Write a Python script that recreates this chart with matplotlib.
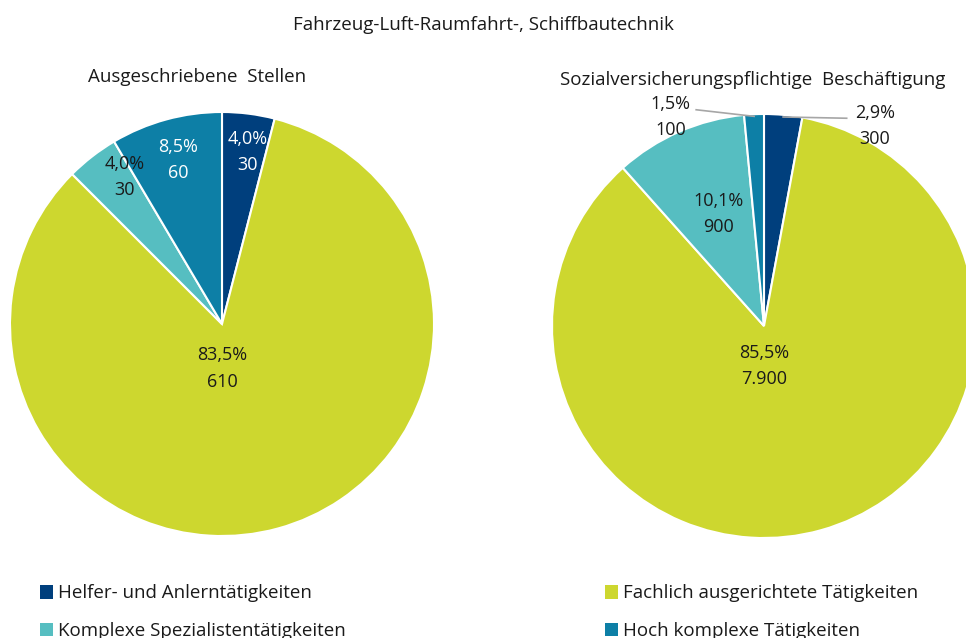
import numpy as np
import matplotlib
matplotlib.use("Agg")
import matplotlib.pyplot as plt

plt.rcParams['font.family'] = ['Open Sans', 'DejaVu Sans']

categories = ['Helfer- und Anlerntätigkeiten', 'Fachlich ausgerichtete Tätigkeiten',
              'Komplexe Spezialistentätigkeiten', 'Hoch komplexe Tätigkeiten']
colors = ['#003F7D', '#CDD72F', '#56BEC1', '#0D7FA6']

stellen_pct = [4.0, 83.5, 4.0, 8.5]
stellen_abs = ['30', '610', '30', '60']
besch_pct = [2.9, 85.5, 10.1, 1.5]
besch_abs = ['300', '7.900', '900', '100']

title = 'Fahrzeug-Luft-Raumfahrt-, Schiffbautechnik'
sub_left = 'Ausgeschriebene  Stellen'
sub_right = 'Sozialversicherungspflichtige  Beschäftigung'

W, H = 966, 638
FS = 13.5
fig = plt.figure(figsize=(W / 100, H / 100), dpi=100)


def pie_axes(cx, cy, r):
    # pixel centre / radius -> figure-fraction axes
    return fig.add_axes([(cx - r) / W, (H - cy - r) / H, 2 * r / W, 2 * r / H])


def fmt(p):
    return f'{p:.1f}'.replace('.', ',') + '%'


def draw_pie(ax, pct, absv, label_pos, text_colors, leaders):
    wedges, _ = ax.pie(pct, colors=colors, startangle=90, counterclock=False,
                       radius=1, wedgeprops=dict(edgecolor='white', linewidth=1.5))
    ax.set_xlim(-1, 1)
    ax.set_ylim(-1, 1)
    ax.axis('off')
    for i, (p, a) in enumerate(zip(pct, absv)):
        r, ang = label_pos[i]
        x, y = r * np.cos(np.radians(ang)), r * np.sin(np.radians(ang))
        ax.text(x, y + 0.062, fmt(p), ha='center', va='center', fontsize=FS - 0.5,
                color=text_colors[i], clip_on=False)
        ax.text(x, y - 0.062, a, ha='center', va='center', fontsize=FS - 0.5,
                color=text_colors[i], clip_on=False)
        if leaders[i] is not None:
            w = wedges[i]
            mid = np.radians((w.theta1 + w.theta2) / 2)
            lx, ly = leaders[i]
            ax.plot([np.cos(mid) * 0.99, lx], [np.sin(mid) * 0.99, ly],
                    color='#A6A6A6', lw=1.2, clip_on=False)
    return wedges


ax1 = pie_axes(222, 324, 212)
wedges = draw_pie(ax1, stellen_pct, stellen_abs,
                  [(0.82, 81.5), (0.21, -90), (0.83, 123.5), (0.80, 105)],
                  ['white', '#1a1a1a', '#1a1a1a', 'white'],
                  [None, None, None, None])

ax2 = pie_axes(764, 326, 212)
draw_pie(ax2, besch_pct, besch_abs,
         [(1.08, 61), (0.19, -90), (0.57, 112), (1.08, 114)],
         ['#1a1a1a', '#1a1a1a', '#1a1a1a', '#1a1a1a'],
         [(0.39, 0.98), None, None, (-0.32, 1.02)])

fig.text(483 / W, 1 - 25 / H, title, ha='center', va='center', fontsize=FS, color='#1a1a1a')
fig.text(197 / W, 1 - 77 / H, sub_left, ha='center', va='center', fontsize=FS, color='#1a1a1a')
fig.text(753 / W, 1 - 80 / H, sub_right, ha='center', va='center', fontsize=FS, color='#1a1a1a')

leg_kw = dict(frameon=False, fontsize=FS, handlelength=0.7, handleheight=0.7,
              handletextpad=0.3, labelspacing=1.05, loc='upper left', borderaxespad=0)
leg1 = fig.legend([wedges[0], wedges[2]], [categories[0], categories[2]],
                  bbox_to_anchor=(32 / W, 1 - 577 / H), **leg_kw)
leg2 = fig.legend([wedges[1], wedges[3]], [categories[1], categories[3]],
                  bbox_to_anchor=(597 / W, 1 - 577 / H), **leg_kw)
for leg in (leg1, leg2):
    for t in leg.get_texts():
        t.set_color('#1a1a1a')
    for h in leg.legend_handles:
        h.set_edgecolor('none')

fig.savefig('out.png', dpi=100)
